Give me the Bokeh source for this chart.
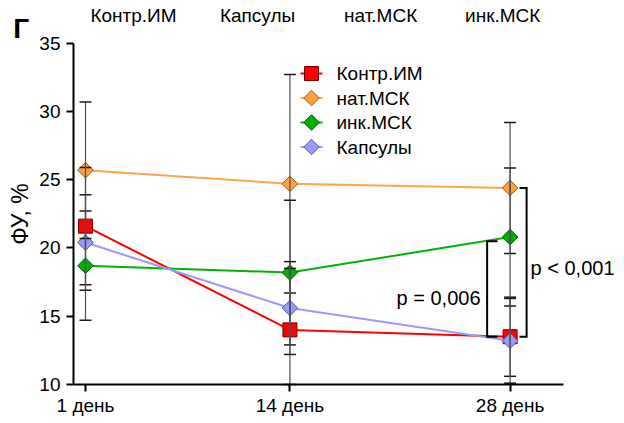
from bokeh.plotting import figure
from bokeh.models import Range1d, FixedTicker, Label
from bokeh.core.properties import value
from bokeh.embed import file_html
from bokeh.resources import INLINE
from math import pi

# ---- data ----
days = [1, 14, 28]
day_labels = ["1 день", "14 день", "28 день"]
y_ticks = [10, 15, 20, 25, 30, 35]
y_min, y_max = 10, 35

kontr_mean = [21.6, 14.0, 13.5]
kontr_sd = [4.3, 4.5, 2.9]
nat_mean = [25.7, 24.7, 24.4]
nat_sd = [5.0, 8.0, 4.8]
ink_mean = [18.7, 18.2, 20.8]
ink_sd = [4.0, 5.3, 5.05]
kaps_mean = [20.4, 15.6, 13.2]
kaps_sd = [3.5, 3.4, 3.1]

series_names = ["Контр.ИМ", "нат.МСК", "инк.МСК", "Капсулы"]
top_labels = ["Контр.ИМ", "Капсулы", "нат.МСК", "инк.МСК"]
p_texts = ["p = 0,006", "p < 0,001"]
panel_letter = "Г"
y_title = "ФУ, %"

FONT = "Liberation Sans"

W, H = 624, 423
x_start, x_end = -4.405, 35.275
y_start, y_end = 7.143, 38.128
PX_X = W / (x_end - x_start)   # pixels per day
PX_Y = H / (y_end - y_start)   # pixels per unit

# axis extent in x (data units)
x_axis_start, x_axis_end = 0.237, 31.39

p = figure(width=W, height=H, output_backend="svg", toolbar_location=None,
           x_range=Range1d(x_start, x_end), y_range=Range1d(y_start, y_end),
           min_border=0, min_border_left=0, min_border_right=0,
           min_border_top=0, min_border_bottom=0)
p.xgrid.visible = False
p.ygrid.visible = False
p.outline_line_color = None
p.background_fill_color = "white"

xa = p.xaxis[0]
ya = p.yaxis[0]
xa.fixed_location = y_min
xa.bounds = (x_axis_start, x_axis_end)
ya.fixed_location = x_axis_start
ya.bounds = (y_min, y_max)

for ax in (xa, ya):
    ax.axis_line_width = 2
    ax.axis_line_color = "black"
    ax.major_tick_line_width = 2
    ax.major_tick_line_color = "black"
    ax.major_tick_in = 0
    ax.major_tick_out = 7
    ax.minor_tick_line_color = None
    ax.major_label_text_font = FONT
    ax.major_label_text_font_size = "19px"
    ax.major_label_text_color = "black"

xa.major_label_standoff = 4
ya.major_label_standoff = 6
xa.ticker = FixedTicker(ticks=days)
xa.major_label_overrides = {d: l for d, l in zip(days, day_labels)}
ya.ticker = FixedTicker(ticks=y_ticks)
ya.axis_label = y_title
ya.axis_label_text_font = FONT
ya.axis_label_text_font_size = "23px"
ya.axis_label_text_font_style = "normal"
ya.axis_label_text_color = "black"
ya.axis_label_standoff = 3

styles = [
    (kontr_mean, kontr_sd, "#ff0000", "#ff0000", "#7a0000", 0.0, 14),
    (nat_mean, nat_sd, "#ffa64d", "#ffa040", "#a05a10", pi / 4, 11),
    (ink_mean, ink_sd, "#00b400", "#00b000", "#005a00", pi / 4, 11),
    (kaps_mean, kaps_sd, "#9999ff", "#9999ff", "#5a5aa0", pi / 4, 11),
]

for (mean, sd, lc, fc, oc, ang, sz) in styles:
    p.line(days, mean, line_color=lc, line_width=2)
    p.scatter(days, mean, marker="square", angle=ang, size=sz, fill_color=fc,
              line_color=oc, line_width=1)

# error bars on top (clipped to the axis floor)
for (mean, sd, *_rest) in styles:
    lo = [max(m - s, y_min) for m, s in zip(mean, sd)]
    hi = [m + s for m, s in zip(mean, sd)]
    p.segment(x0=days, y0=lo, x1=days, y1=hi, line_color="#505050", line_width=1.2)
    p.scatter(days, lo, marker="dash", size=12, line_color="#1a1a1a", line_width=1.5)
    p.scatter(days, hi, marker="dash", size=12, line_color="#1a1a1a", line_width=1.5)

# legend (drawn so that the diamonds keep their rotation)
leg_x = 1 + (311 - 85) / PX_X          # marker centre
leg_y = y_max - (73 - 42.7) / PX_Y     # first row centre
leg_step = 24.5 / PX_Y
half_line = 11 / PX_X
text_dx = 25 / PX_X
for i, (name, (mean, sd, lc, fc, oc, ang, sz)) in enumerate(zip(series_names, styles)):
    yy = leg_y - i * leg_step
    p.line([leg_x - half_line, leg_x + half_line], [yy, yy], line_color=lc, line_width=2)
    p.scatter([leg_x], [yy], marker="square", angle=ang, size=sz, fill_color=fc,
              line_color=oc, line_width=1)
    p.text([leg_x + text_dx], [yy], text=[name], text_font=value(FONT),
           text_font_size="19px", text_baseline="middle", text_align="left",
           text_color="black")

# significance brackets at day 28
d = days[2]
b1_top = ink_mean[2] - 0.3
b1_bot = kontr_mean[2]
p.line([d - 0.8, d - 1.46, d - 1.46, d - 0.8], [b1_top, b1_top, b1_bot, b1_bot],
       line_color="black", line_width=2, line_join="miter")
b2_top = nat_mean[2]
b2_bot = kontr_mean[2]
p.line([d + 0.6, d + 1.05, d + 1.05, d + 0.6], [b2_top, b2_top, b2_bot, b2_bot],
       line_color="black", line_width=2, line_join="miter")

p.add_layout(Label(x=26.12, y=16.3, text=p_texts[0], text_align="right",
                   text_baseline="middle", text_font=FONT, text_font_size="20px",
                   text_color="black"))
p.add_layout(Label(x=29.3, y=18.5, text=p_texts[1], text_align="left",
                   text_baseline="middle", text_font=FONT, text_font_size="20px",
                   text_color="black"))

# panel letter
p.add_layout(Label(x=-3.6, y=36.1, text=panel_letter, text_align="left",
                   text_baseline="alphabetic", text_font=FONT, text_font_size="28px",
                   text_font_style="bold", text_color="black"))

# labels of the panel above
for xc, t in zip([4.05, 11.94, 19.77, 27.53], top_labels):
    p.add_layout(Label(x=xc, y=37.03, text=t, text_align="center",
                       text_baseline="alphabetic", text_font=FONT,
                       text_font_size="19px", text_color="black"))

open("out.html", "w").write(file_html(p, INLINE))
